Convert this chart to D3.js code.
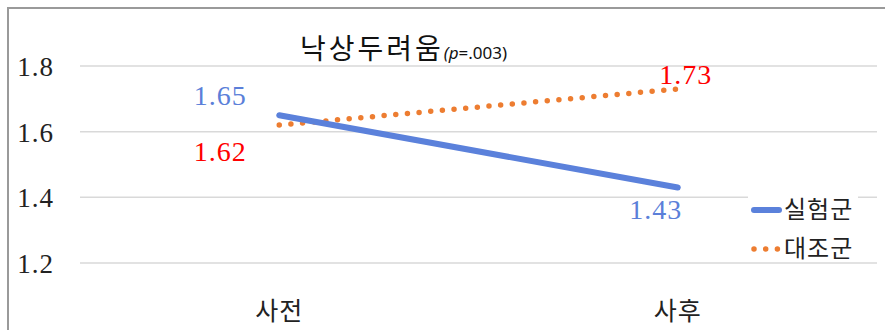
<!DOCTYPE html>
<html>
<head>
    <meta charset="utf-8">
    <title>낙상두려움</title>
    <script type="text/javascript" src="https://cdn.jsdelivr.net/npm/d3@7"></script>
    <style>
        body{
            margin:0;
            background:#fff;
        }
        .num{
            font-family:"Liberation Serif", serif;
        }
        .kr{
            font-family:"Noto Sans CJK KR", sans-serif;
        }
    </style>
</head>
<body>
<div id="chart1"></div>

<script>
    var categories = ["사전", "사후"];
    var seriesNames = ["실험군", "대조군"];
    var expValues = [1.65, 1.43];
    var ctrlValues = [1.62, 1.73];
    var yTicks = [1.2, 1.4, 1.6, 1.8];

    var colors = {
        "실험군": "#5b81db",
        "대조군": "#ed7d31"
    };
    var labelColors = {
        "실험군": "#5b7fd9",
        "대조군": "#ff0000"
    };

    var series = [
        {name: "실험군", values: expValues},
        {name: "대조군", values: ctrlValues}
    ];

    var width = 885;
    var height = 330;

    var svg = d3.select("#chart1").append("svg")
        .attr("width", width)
        .attr("height", height);

    // outer frame (right and bottom fall outside the crop)
    svg.append("rect")
        .attr("x", 8).attr("y", 8)
        .attr("width", 900).attr("height", 400)
        .attr("fill", "none")
        .attr("stroke", "#9a9a9a")
        .attr("stroke-width", 2);

    var x = d3.scaleBand()
        .domain(categories)
        .range([80, 877]);

    var y = d3.scaleLinear()
        .domain([1.2, 1.8])
        .range([263, 66]);

    // gridlines
    svg.selectAll(".grid")
        .data(yTicks)
        .enter().append("line")
        .attr("x1", 80).attr("x2", 877)
        .attr("y1", function(d){ return y(d); })
        .attr("y2", function(d){ return y(d); })
        .attr("stroke", "#d9d9d9")
        .attr("stroke-width", 1.5);

    var yAxis = d3.axisLeft(y)
        .tickValues(yTicks)
        .tickSize(0)
        .tickPadding(0)
        .tickFormat(d3.format(".1f"));

    var gy = svg.append("g")
        .attr("transform", "translate(54,0)")
        .call(yAxis);
    gy.select(".domain").remove();
    gy.selectAll("text")
        .attr("class", "num")
        .attr("font-size", 27)
        .attr("fill", "#222")
        .attr("dy", "0.35em")
        .style("letter-spacing", "1px");

    var xAxis = d3.axisBottom(x).tickSize(0).tickPadding(0);
    var gx = svg.append("g")
        .attr("transform", "translate(0,300)")
        .call(xAxis);
    gx.select(".domain").remove();
    gx.selectAll("text")
        .attr("class", "kr")
        .attr("font-size", 25)
        .attr("fill", "#222")
        .attr("dy", "0.8em")
        .style("letter-spacing", "1px");

    var line = d3.line()
        .x(function(d, i){ return x(categories[i]) + x.bandwidth() / 2; })
        .y(function(d){ return y(d); });

    // control group first so the blue sits on top
    svg.append("path")
        .datum(ctrlValues)
        .attr("d", line)
        .attr("fill", "none")
        .attr("stroke", colors["대조군"])
        .attr("stroke-width", 5.5)
        .attr("stroke-linecap", "round")
        .attr("stroke-dasharray", "0 11.7");

    svg.append("path")
        .datum(expValues)
        .attr("d", line)
        .attr("fill", "none")
        .attr("stroke", colors["실험군"])
        .attr("stroke-width", 6)
        .attr("stroke-linecap", "round");

    // data labels
    var labelPos = {
        "실험군": [{dx: -59, dy: -10}, {dx: -22, dy: 32}],
        "대조군": [{dx: -59, dy: 36}, {dx: 8, dy: -5}]
    };
    series.forEach(function(s){
        svg.selectAll(".lbl")
            .data(s.values)
            .enter().append("text")
            .attr("class", "num")
            .attr("x", function(d, i){ return x(categories[i]) + x.bandwidth() / 2 + labelPos[s.name][i].dx; })
            .attr("y", function(d, i){ return y(d) + labelPos[s.name][i].dy; })
            .attr("text-anchor", "middle")
            .attr("font-size", 28)
            .style("letter-spacing", "1px")
            .attr("fill", labelColors[s.name])
            .text(function(d){ return d.toFixed(2); });
    });

    // title
    var title = svg.append("text")
        .attr("x", 300)
        .attr("y", 59);
    title.append("tspan")
        .attr("class", "kr")
        .attr("font-size", 28)
        .attr("fill", "#111")
        .style("letter-spacing", "3px")
        .text("낙상두려움");
    title.append("tspan")
        .attr("font-family", "'Noto Sans', sans-serif")
        .attr("font-size", 17)
        .attr("font-style", "italic")
        .attr("fill", "#111")
        .text("(p");
    title.append("tspan")
        .attr("font-family", "'Noto Sans', sans-serif")
        .attr("font-size", 17)
        .attr("fill", "#111")
        .text("=.003)");

    // legend
    var legend = svg.append("g").attr("transform", "translate(748,190)");
    legend.append("rect")
        .attr("x", 0).attr("y", 0)
        .attr("width", 110).attr("height", 70)
        .attr("fill", "#fff");
    var li = legend.selectAll(".li")
        .data(seriesNames)
        .enter().append("g")
        .attr("transform", function(d, i){ return "translate(0," + (20 + i * 39) + ")"; });
    li.append("line")
        .attr("x1", 6).attr("x2", 31)
        .attr("y1", 0).attr("y2", 0)
        .attr("stroke", function(d){ return colors[d]; })
        .attr("stroke-width", function(d){ return d == "실험군" ? 6 : 5.5; })
        .attr("stroke-linecap", "round")
        .attr("stroke-dasharray", function(d){ return d == "실험군" ? null : "0 11.7"; });
    li.append("text")
        .attr("class", "kr")
        .attr("x", 36)
        .attr("y", 8)
        .attr("font-size", 24)
        .attr("fill", "#222")
        .style("letter-spacing", "1px")
        .text(function(d){ return d; });
</script>
</body>
</html>
